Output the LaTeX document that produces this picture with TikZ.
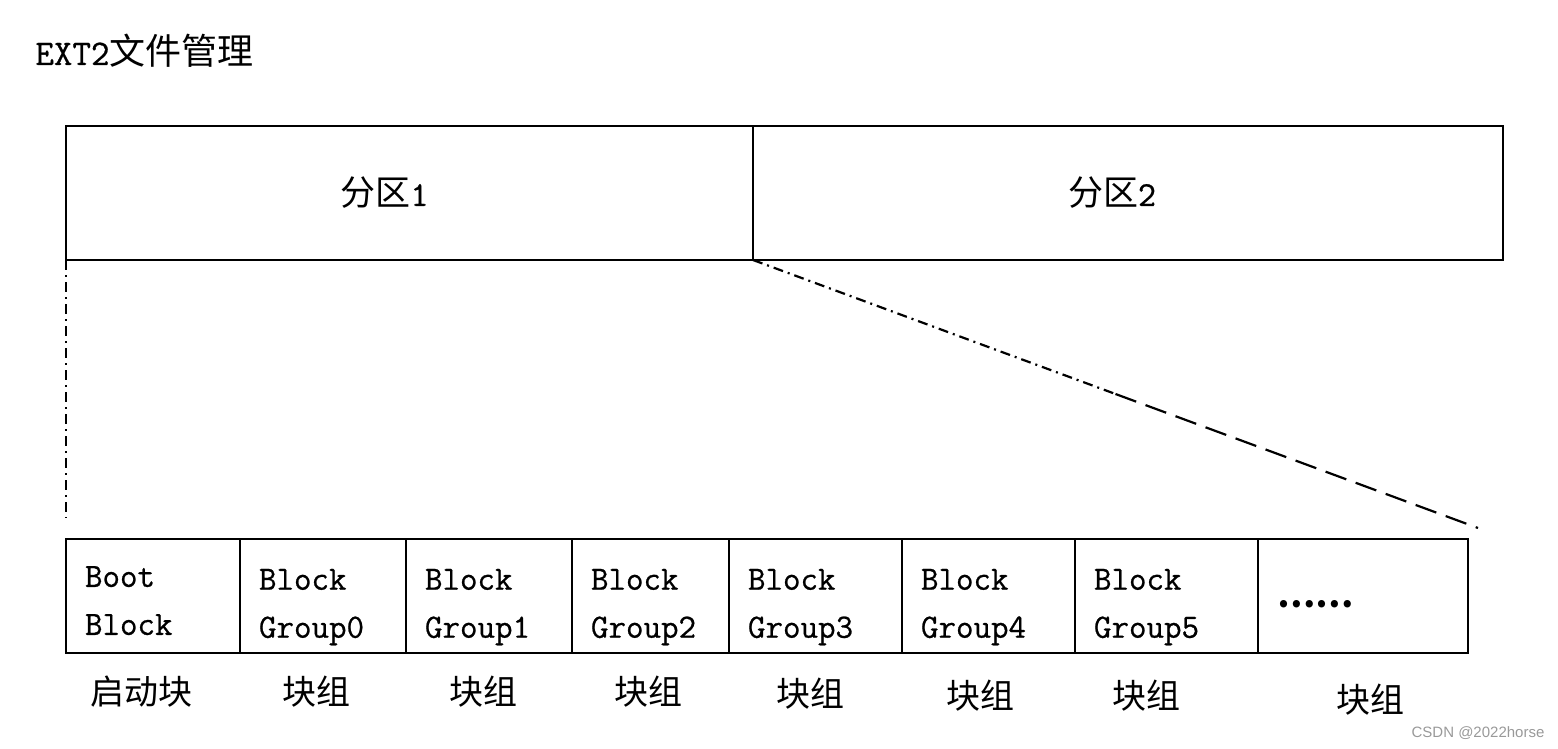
\documentclass[tikz,border=0pt]{standalone}
\usepackage{fontspec}
\usepackage{tikz}
\usetikzlibrary{calc,positioning}
\newfontfamily\cjk{Noto Sans CJK SC}
\newfontfamily\latin[FakeBold=0.7]{Latin Modern Mono}
\newfontfamily\wmfont{Liberation Sans}

\tikzset{
  part/.style={draw, line width=1.1pt, minimum height=67pt, outer sep=0pt, inner sep=0pt,
    font=\fontsize{17.5}{20}\selectfont},
  cell/.style={draw, line width=1.1pt, minimum height=57pt, outer sep=0pt, inner xsep=9.5pt,
    text height=21.5pt, align=left, anchor=north west, font=\latin\fontsize{17}{24}\selectfont},
  tag/.style={inner sep=0pt, font=\cjk\fontsize{17}{20}\selectfont},
  dashdot/.style={line width=1.1pt, dash pattern=on 5pt off 2.5pt on 1pt off 2.5pt},
  longdash/.style={line width=1.1pt, dash pattern=on 11pt off 5pt},
}

\begin{document}
\begin{tikzpicture}[x=0.5pt,y=-0.5pt]
  % canvas (pixel units, y down)
  \useasboundingbox (0,0) rectangle (1558,749);

  % Title
  \node[anchor=base west, inner sep=0pt, font=\fontsize{18}{20}\selectfont] (title) at (35,65)
    {\latin EXT2\cjk 文件管理};

  % Partitions
  \node[part, minimum width=343.5pt] (p1) at (409.5,193)
    {{\cjk 分区}{\latin 1}\kern25pt};
  \node[part, minimum width=375pt, right=0pt of p1] (p2)
    {{\cjk 分区}{\latin 2}\kern16pt};

  % Blocks of partition 1
  \node[cell, text width=68pt, text height=15pt] (b0) at (66,539) {Boot\\Block};
  \node[cell, text width=64pt] (b1) at (b0.north east) {Block\\Group0};
  \node[cell, text width=64pt] (b2) at (b1.north east) {Block\\Group1};
  \node[cell, text width=59.5pt] (b3) at (b2.north east) {Block\\Group2};
  \node[cell, text width=67.5pt] (b4) at (b3.north east) {Block\\Group3};
  \node[cell, text width=67.5pt] (b5) at (b4.north east) {Block\\Group4};
  \node[cell, text width=72.5pt] (b6) at (b5.north east) {Block\\Group5};
  \node[cell, text width=86pt, text height=11.5pt] (b7) at (b6.north east) {\cjk\bfseries ……};

  % Names under the blocks
  \node[tag] (lb0) at (141,692) {启动块};
  \node[tag] (lb1) at (316,692) {块组};
  \node[tag] (lb2) at (483,692) {块组};
  \node[tag] (lb3) at (648,692) {块组};
  \node[tag] (lb4) at (810,694) {块组};
  \node[tag] (lb5) at (980,696) {块组};
  \node[tag] (lb6) at (1146,696) {块组};
  \node[tag] (lb7) at (1370,700) {块组};

  % Zoom lines
  \coordinate (lend) at (66,518);
  \coordinate (send) at (1478,528);
  \coordinate (smid) at ($(p1.south east)!0.5!(send)$);
  \draw[dashdot] (p1.south west) -- (lend);
  \draw[dashdot] (p1.south east) -- (smid);
  \draw[longdash] (smid) -- (send);

  % Watermark
  \node[text=gray!80, inner sep=0pt, font=\wmfont\fontsize{7.5}{9}\selectfont] (wm) at (1478,733)
    {CSDN @2022horse};
\end{tikzpicture}
\end{document}
